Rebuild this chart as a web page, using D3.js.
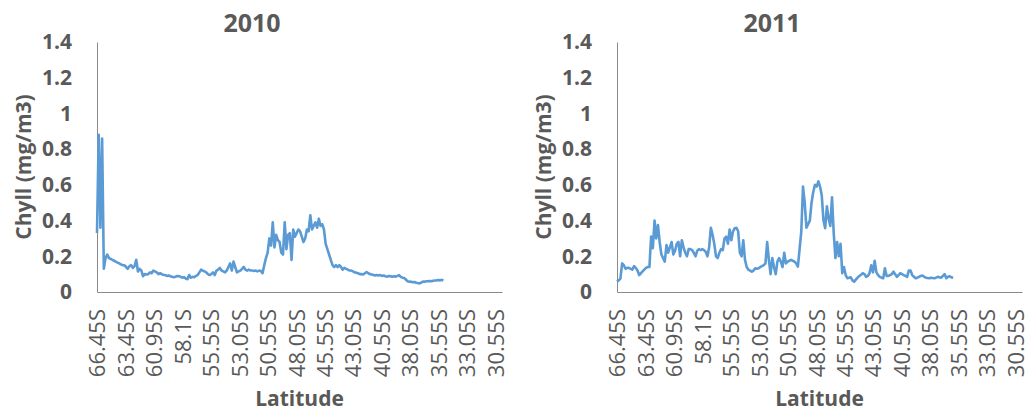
<!DOCTYPE html>
<html>
<head>
<meta charset="utf-8">
<script src="https://cdn.jsdelivr.net/npm/d3@7"></script>
<style>
  html, body { margin: 0; padding: 0; background: #ffffff; }
  svg { display: block; }
  text { font-family: "Open Sans", "Liberation Sans", sans-serif; fill: #595959; }
</style>
</head>
<body>
<svg id="chart" width="1029" height="412"></svg>
<script>
// Latitude labels shown on the category axis (one every 50 samples)
const latitudeLabels = ["66.45S", "63.45S", "60.95S", "58.1S", "55.55S", "53.05S", "50.55S",
  "48.05S", "45.55S", "43.05S", "40.55S", "38.05S", "35.55S", "33.05S", "30.55S"];
const categoryCount = 713;   // samples along the transect axis
const labelEvery = 50;       // a latitude label every 50 samples
const valueStep = 3;         // chlorophyll readings listed every 3 samples

const yTicks = [0, 0.2, 0.4, 0.6, 0.8, 1, 1.2, 1.4];

// Chlorophyll (mg/m3), 2010 transect
const chl2010 = [
  0.33, 0.88, 0.36, 0.86, 0.13, 0.19, 0.21, 0.19, 0.185, 0.18,
  0.175, 0.17, 0.165, 0.16, 0.155, 0.15, 0.15, 0.14, 0.13, 0.145,
  0.15, 0.135, 0.145, 0.18, 0.115, 0.13, 0.12, 0.088, 0.10, 0.098,
  0.10, 0.11, 0.105, 0.12, 0.115, 0.11, 0.10, 0.105, 0.10, 0.095,
  0.095, 0.09, 0.092, 0.088, 0.085, 0.083, 0.085, 0.09, 0.088, 0.085,
  0.08, 0.083, 0.075, 0.072, 0.095, 0.08, 0.085, 0.083, 0.09, 0.095,
  0.11, 0.125, 0.12, 0.115, 0.11, 0.10, 0.095, 0.10, 0.11, 0.095,
  0.12, 0.125, 0.135, 0.12, 0.115, 0.11, 0.12, 0.14, 0.16, 0.12,
  0.17, 0.14, 0.11, 0.115, 0.12, 0.13, 0.14, 0.125, 0.12, 0.125,
  0.12, 0.12, 0.118, 0.12, 0.115, 0.12, 0.118, 0.105, 0.15, 0.19,
  0.22, 0.30, 0.26, 0.39, 0.25, 0.32, 0.29, 0.28, 0.22, 0.21,
  0.39, 0.24, 0.32, 0.33, 0.18, 0.35, 0.31, 0.33, 0.35, 0.34,
  0.31, 0.28, 0.30, 0.35, 0.34, 0.43, 0.35, 0.37, 0.39, 0.36,
  0.41, 0.37, 0.38, 0.35, 0.27, 0.24, 0.21, 0.18, 0.15, 0.14,
  0.15, 0.14, 0.15, 0.14, 0.125, 0.135, 0.13, 0.125, 0.12, 0.12,
  0.115, 0.11, 0.108, 0.105, 0.10, 0.10, 0.098, 0.105, 0.112, 0.105,
  0.10, 0.098, 0.095, 0.092, 0.095, 0.092, 0.095, 0.09, 0.092, 0.088,
  0.086, 0.09, 0.088, 0.085, 0.088, 0.086, 0.09, 0.095, 0.085, 0.08,
  0.078, 0.07, 0.06, 0.057, 0.058, 0.055, 0.056, 0.052, 0.05, 0.048,
  0.053, 0.058, 0.057, 0.06, 0.06, 0.062, 0.06, 0.063, 0.064, 0.065,
  0.067, 0.065, 0.068, 0.064
];

// Chlorophyll (mg/m3), 2011 transect
const chl2011 = [
  0.058, 0.065, 0.075, 0.16, 0.15, 0.13, 0.135, 0.135, 0.13, 0.125,
  0.145, 0.135, 0.12, 0.095, 0.105, 0.115, 0.125, 0.135, 0.14, 0.14,
  0.31, 0.245, 0.40, 0.30, 0.375, 0.28, 0.21, 0.19, 0.17, 0.263,
  0.22, 0.25, 0.28, 0.21, 0.23, 0.27, 0.28, 0.20, 0.29, 0.25,
  0.22, 0.20, 0.24, 0.24, 0.235, 0.22, 0.20, 0.23, 0.24, 0.235,
  0.24, 0.235, 0.225, 0.20, 0.25, 0.36, 0.32, 0.27, 0.20, 0.19,
  0.22, 0.24, 0.235, 0.30, 0.31, 0.27, 0.35, 0.29, 0.34, 0.357,
  0.36, 0.34, 0.22, 0.20, 0.29, 0.18, 0.14, 0.125, 0.12, 0.114,
  0.12, 0.133, 0.13, 0.133, 0.14, 0.145, 0.15, 0.16, 0.28, 0.18,
  0.10, 0.19, 0.14, 0.10, 0.17, 0.19, 0.17, 0.14, 0.22, 0.16,
  0.17, 0.175, 0.18, 0.175, 0.17, 0.16, 0.142, 0.24, 0.34, 0.59,
  0.50, 0.36, 0.38, 0.40, 0.50, 0.56, 0.60, 0.59, 0.62, 0.59,
  0.54, 0.40, 0.357, 0.48, 0.41, 0.37, 0.53, 0.33, 0.19, 0.28,
  0.20, 0.27, 0.105, 0.14, 0.095, 0.077, 0.08, 0.082, 0.065, 0.058,
  0.07, 0.08, 0.09, 0.097, 0.105, 0.10, 0.085, 0.09, 0.105, 0.15,
  0.11, 0.175, 0.11, 0.095, 0.085, 0.08, 0.077, 0.133, 0.09, 0.09,
  0.095, 0.10, 0.114, 0.10, 0.085, 0.095, 0.105, 0.10, 0.095, 0.09,
  0.085, 0.12, 0.12, 0.095, 0.085, 0.077, 0.08, 0.085, 0.09, 0.092,
  0.085, 0.08, 0.078, 0.077, 0.08, 0.078, 0.077, 0.08, 0.085, 0.082,
  0.08, 0.09, 0.10, 0.077, 0.085, 0.088, 0.082, 0.08
];

const panels = [
  { title: "2010", values: chl2010, offsetX: 0 },
  { title: "2011", values: chl2011, offsetX: 520 }
];

const svg = d3.select("#chart");

// Plot box inside each panel
const plot = { left: 97, right: 502, top: 42, bottom: 292 };
const axisColor = "#8a8a8a";
const lineColor = "#5b9bd5";

const x = d3.scaleLinear().domain([0, categoryCount - 1]).range([plot.left, plot.right]);
const y = d3.scaleLinear().domain([0, 1.4]).range([plot.bottom, plot.top]);

const labelIndex = latitudeLabels.map((_, i) => i * labelEvery);

panels.forEach(p => {
  const g = svg.append("g").attr("transform", `translate(${p.offsetX},0)`);

  // Title
  g.append("text")
    .attr("x", 252).attr("y", 32)
    .attr("text-anchor", "middle")
    .style("font-size", "25px").style("font-weight", "bold")
    .text(p.title);

  // Y axis
  const yAxis = d3.axisLeft(y).tickValues(yTicks).tickSize(0).tickPadding(25)
    .tickFormat(d => d3.format("~g")(d));
  const yg = g.append("g").attr("transform", `translate(${plot.left},0)`).call(yAxis);
  yg.select(".domain").attr("stroke", axisColor).attr("stroke-width", 1);
  yg.selectAll(".tick text")
    .attr("fill", "#595959")
    .style("font-family", "'Open Sans', sans-serif")
    .style("font-size", "21px").style("font-weight", "bold");

  // X axis (category axis with latitude labels)
  const xAxis = d3.axisBottom(x).tickValues(labelIndex).tickSize(0)
    .tickFormat((d, i) => latitudeLabels[i]);
  const xg = g.append("g").attr("transform", `translate(0,${plot.bottom})`).call(xAxis);
  xg.select(".domain").attr("stroke", axisColor).attr("stroke-width", 1);
  xg.selectAll(".tick text")
    .attr("fill", "#595959")
    .style("font-family", "'Open Sans', sans-serif")
    .style("font-size", "22px")
    .attr("text-anchor", "end")
    .attr("transform", "rotate(-90)")
    .attr("x", -17).attr("y", 0).attr("dy", "0.36em");

  // Axis titles
  g.append("text")
    .attr("transform", `translate(31,${(plot.top + plot.bottom) / 2}) rotate(-90)`)
    .attr("text-anchor", "middle")
    .style("font-size", "21px").style("font-weight", "bold")
    .text("Chyll (mg/m3)");

  g.append("text")
    .attr("x", (plot.left + plot.right) / 2).attr("y", 406)
    .attr("text-anchor", "middle")
    .style("font-size", "21px").style("font-weight", "bold")
    .text("Latitude");

  // Chlorophyll line
  const line = d3.line()
    .x((d, i) => x(i * valueStep))
    .y(d => y(d));
  g.append("path")
    .datum(p.values)
    .attr("fill", "none")
    .attr("stroke", lineColor)
    .attr("stroke-width", 2.6)
    .attr("stroke-linejoin", "round")
    .attr("d", line);
});
</script>
</body>
</html>
